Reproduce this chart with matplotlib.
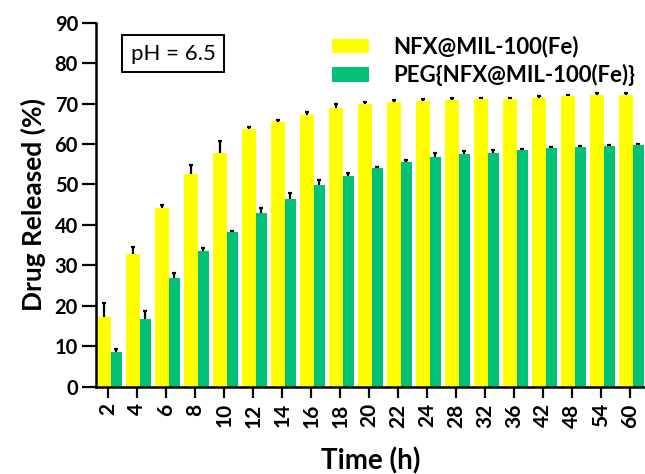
import matplotlib
matplotlib.use("Agg")
import matplotlib.pyplot as plt
import numpy as np

times = ["2", "4", "6", "8", "10", "12", "14", "16", "18", "20", "22", "24",
         "28", "32", "36", "42", "48", "54", "60"]
nfx = [17.3, 32.7, 44.3, 52.5, 57.9, 63.7, 65.4, 67.2, 69.0, 69.9, 70.5, 70.7,
       71.0, 71.1, 71.1, 71.4, 71.8, 72.1, 72.1]
nfx_err = [3.5, 1.9, 0.6, 2.4, 2.9, 0.6, 0.6, 0.6, 0.9, 0.4, 0.4, 0.4,
           0.4, 0.4, 0.4, 0.4, 0.4, 0.4, 0.4]
peg = [8.7, 16.8, 27.0, 33.6, 38.3, 43.0, 46.4, 49.9, 52.2, 54.0, 55.6, 56.7,
       57.5, 57.9, 58.5, 58.9, 59.3, 59.4, 59.7]
peg_err = [0.5, 2.0, 1.0, 0.8, 0.3, 1.3, 1.4, 1.3, 0.6, 0.3, 0.4, 1.0,
           0.9, 0.7, 0.3, 0.3, 0.3, 0.3, 0.3]

FONT = "Lato"
plt.rcParams['font.family'] = [FONT, 'DejaVu Sans']

fig = plt.figure(figsize=(6.45, 4.74), dpi=100)
ax = fig.add_axes([96/645, 1-386.7/474, 1-96/645, (386.7-22.7)/474])

x = np.arange(len(times))
yellow = "#FFFF00"
green = "#00C176"
wy, wg = 0.48, 0.38
xy = x - 0.40 + wy/2
xg = x + 0.08 + wg/2
ax.bar(xy, nfx, width=wy, color=yellow, label="NFX@MIL-100(Fe)", zorder=2)
ax.bar(xg, peg, width=wg, color=green, label="PEG{NFX@MIL-100(Fe)}", zorder=2)

ekw = dict(fmt="none", ecolor="black", elinewidth=1.6, capsize=1.5, capthick=1.6, zorder=1)
ny, ne = np.array(nfx), np.array(nfx_err)
py, pe = np.array(peg), np.array(peg_err)
ax.errorbar(xy, ny, yerr=[ne, ne], **ekw)
ax.errorbar(xg, py, yerr=[pe, pe], **ekw)

ax.set_xlim(-0.424, 18.51)
ax.set_ylim(0, 90)
ax.set_yticks(np.arange(0, 91, 10))
ax.set_xticks(x)
ax.set_xticklabels(times, rotation=90)
for s in ["top", "right"]:
    ax.spines[s].set_visible(False)
for s in ["left", "bottom"]:
    ax.spines[s].set_linewidth(1.8)
    ax.spines[s].set_zorder(3)
ax.tick_params(axis="y", length=10, width=1.6, labelsize=14.5, pad=3)
ax.tick_params(axis="x", length=8, width=1.6, labelsize=15, pad=4)
for lab in ax.get_xticklabels() + ax.get_yticklabels():
    lab.set_fontweight("bold")

ax.set_ylabel("Drug Released (%)", fontsize=19, fontweight="bold", labelpad=6)
ax.set_xlabel("Time (h)", fontsize=20, fontweight="bold", labelpad=14)

leg = ax.legend(loc="upper left", bbox_to_anchor=(0.405, 1.0), frameon=False,
                prop=dict(family=FONT, weight="bold", size=16),
                handlelength=1.7, handleheight=0.65, handletextpad=1.05,
                labelspacing=0.3, borderaxespad=0.2)

fig.text(173/645, 1-53.5/474, "pH = 6.5", fontsize=16, ha="center", va="center",
         bbox=dict(boxstyle="square,pad=0.4", facecolor="white", edgecolor="black", linewidth=1.4))

fig.savefig("out.png", dpi=100)
